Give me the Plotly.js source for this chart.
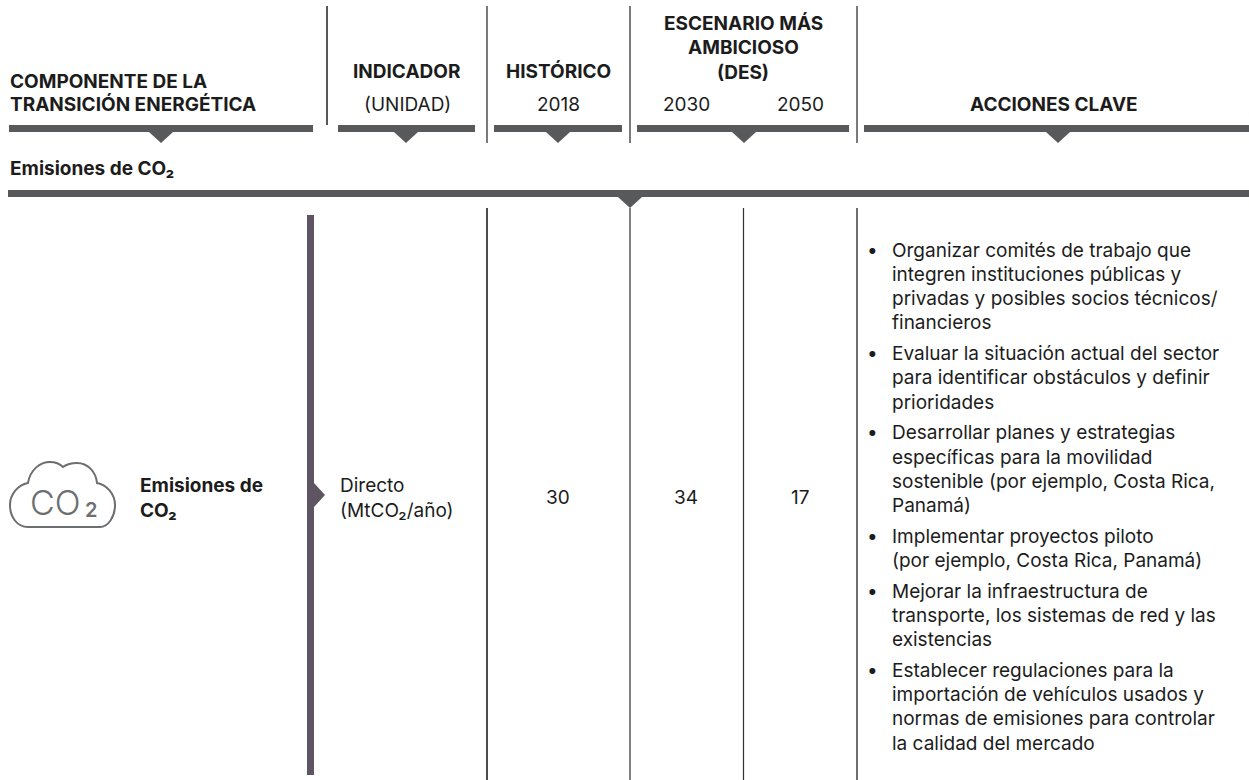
<!DOCTYPE html>
<html><head><meta charset="utf-8">
<script src="https://cdn.plot.ly/plotly-3.0.1.min.js"></script>
<style>html,body{margin:0;padding:0;background:#fff}#c{width:1249px;height:780px}</style>
</head><body><div id="c"></div>
<script>
const FONT = 'Inter, "Open Sans", sans-serif';
const headers = ['COMPONENTE DE LA','TRANSICIÓN ENERGÉTICA','INDICADOR','HISTÓRICO','ESCENARIO MÁS','AMBICIOSO','(DES)','ACCIONES CLAVE'];
const subHeaders = ['(UNIDAD)','2018','2030','2050'];
const sectionTitle = 'Emisiones de CO₂';
const rowLabel = ['Emisiones de','CO₂'];
const indicator = ['Directo','(MtCO₂/año)'];
const values = ['30','34','17'];
const actions = [
 ['Organizar comités de trabajo que','integren instituciones públicas y','privadas y posibles socios técnicos/','financieros'],
 ['Evaluar la situación actual del sector','para identificar obstáculos y definir','prioridades'],
 ['Desarrollar planes y estrategias','específicas para la movilidad','sostenible (por ejemplo, Costa Rica,','Panamá)'],
 ['Implementar proyectos piloto','(por ejemplo, Costa Rica, Panamá)'],
 ['Mejorar la infraestructura de','transporte, los sistemas de red y las','existencias'],
 ['Establecer regulaciones para la','importación de vehículos usados y','normas de emisiones para controlar','la calidad del mercado']
];
const ann=[], shapes=[];
function T(x,y,text,o={}){ann.push({x,y,text,xref:'x',yref:'y',showarrow:false,xanchor:o.a||'left',yanchor:'middle',align:o.a||'left',
 font:{family:FONT,size:o.s||19,color:o.c||'#1c1c1c',weight:o.b?700:400}});}
function R(x0,y0,x1,y1,c){shapes.push({type:'rect',x0,y0,x1,y1,fillcolor:c,line:{width:0}});}
function V(x,y0,y1,w,c){shapes.push({type:'line',x0:x,x1:x,y0,y1,line:{color:c||'#333',width:w||1.3}});}
function P(path,c){shapes.push({type:'path',path,fillcolor:c,line:{width:0}});}
const G='#58595b', PU='#5f5461';
[[9,313],[338,475],[494,622],[637,849],[864,1249]].forEach(([a,b])=>R(a,125,b,132,G));
[161,406,558,744,1058].forEach(c=>P(`M${c-12},132L${c+12},132L${c},143Z`,G));
R(8,190,1249,197,G); P('M618,197L642,197L630,208Z',G);
V(327,6,125,1.4,'#111'); V(487,6,143); V(630,6,143); V(857,6,143);
V(487,208,780,1.5,'#111'); V(630,208,780,1.5,G); V(743.5,208,780,1.2,'#333'); V(857,208,780,1.4,'#333');
R(307,215,314,775,PU); P('M314,483L325,495L314,507Z',PU);
T(8,81,headers[0],{b:1}); T(8,104,headers[1],{b:1});
T(407,71,headers[2],{b:1,a:'center'}); T(558,71,headers[3],{b:1,a:'center'});
[4,5,6].forEach((k,i)=>T(743,23+24.5*i,headers[k],{b:1,a:'center'}));
T(1054,104,headers[7],{b:1,a:'center'});
T(407,104,subHeaders[0],{a:'center'}); T(558,104,subHeaders[1],{a:'center'});
T(686,104,subHeaders[2],{a:'center'}); T(800,104,subHeaders[3],{a:'center'});
T(8,168,sectionTitle,{b:1});
T(138,485,rowLabel[0],{b:1}); T(138,510,rowLabel[1],{b:1});
T(338,485,indicator[0]); T(338,510,indicator[1]);
T(558,497,values[0],{a:'center'}); T(686,497,values[1],{a:'center'}); T(800,497,values[2],{a:'center'});
let y=250;
actions.forEach(g=>{T(864.5,y,'•');g.forEach(l=>{T(889.5,y,l);y+=24.3;});y+=6.3;});
shapes.push({type:'path',path:'M28,527 C17,527 10,517 10,505 C10,494 18,485 28,483 C30,470 40,462 50,462 C56,462 60,464 63,467 C67,464 72,463 77,463 C88,463 96,472 97,483 C107,485 115,494 115,505 C115,517 108,527 100,527 Z',line:{color:'#6d6e71',width:2},fillcolor:'rgba(0,0,0,0)'});
ann.push({x:55,y:502,text:'CO',xref:'x',yref:'y',showarrow:false,xanchor:'center',yanchor:'middle',font:{family:FONT,size:34,color:'#6d6e71',weight:300}});
ann.push({x:90.5,y:510,text:'2',xref:'x',yref:'y',showarrow:false,xanchor:'center',yanchor:'middle',font:{family:FONT,size:20,color:'#6d6e71',weight:600}});
const ax={visible:false,fixedrange:true,showgrid:false,zeroline:false};
Plotly.newPlot('c',[{x:[0],y:[0],mode:'markers',marker:{opacity:0},hoverinfo:'skip',showlegend:false}],{
 width:1249,height:780,margin:{l:0,r:0,t:0,b:0},paper_bgcolor:'#fff',plot_bgcolor:'#fff',showlegend:false,
 xaxis:{...ax,range:[0,1249]},yaxis:{...ax,range:[780,0]},shapes,annotations:ann},{displayModeBar:false,staticPlot:true});
</script></body></html>
